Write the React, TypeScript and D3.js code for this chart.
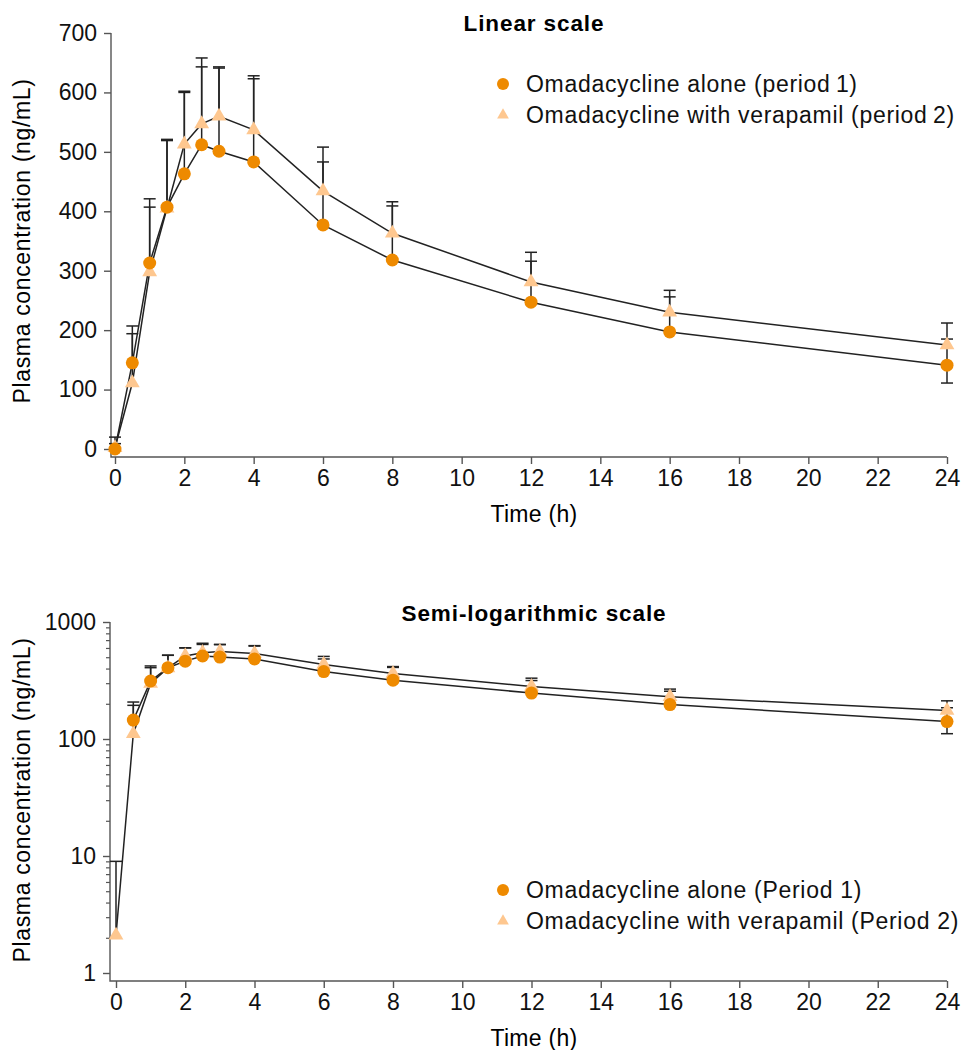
import { useEffect, useRef } from "react";
import * as d3 from "d3";

// sampling times (h)
const times = [0, 0.5, 1, 1.5, 2, 2.5, 3, 4, 6, 8, 12, 16, 24];

// period 1: omadacycline alone
const aloneMean = [0, 145, 313, 407, 463, 512, 501, 483, 377, 318, 247, 197, 141];
const aloneUpper = [20, 207, 421, 519, 602, 643, 641, 628, 483, 409, 316, 256, 185];
const aloneLower = [null, null, null, null, null, null, null, null, null, null, null, null, 111];

// period 2: omadacycline with verapamil
const verapMean = [2.1, 111, 298, 405, 513, 547, 560, 537, 434, 363, 281, 230, 175];
const verapUpper = [9, 194, 407, 521, 600, 658, 643, 623, 508, 416, 331, 267, 212];

const xTicks = [0, 2, 4, 6, 8, 10, 12, 14, 16, 18, 20, 22, 24];
const linTicks = [0, 100, 200, 300, 400, 500, 600, 700];
const logTicks = [1, 10, 100, 1000];

const legendLinear = ["Omadacycline alone (period\u20091)", "Omadacycline with verapamil (period\u20092)"];
const legendLog = ["Omadacycline alone (Period 1)", "Omadacycline with verapamil (Period 2)"];

const FONT = "'Liberation Sans', Arial, Helvetica, sans-serif";
const ORANGE = "#ee8a00";
const PEACH = "#fec78f";
const AXIS = "#555";

const App = () => {
  const svgRef = useRef<SVGSVGElement>(null);

  useEffect(() => {
    const svg = d3.select(svgRef.current);
    svg.selectAll("*").remove();

    const series = [
      { mean: aloneMean, upper: aloneUpper, lower: aloneLower, kind: "circle" },
      { mean: verapMean, upper: verapUpper, lower: aloneLower.map(() => null), kind: "triangle" },
    ];

    const panel = (cfg: any) => {
      const g = svg.append("g");
      const x = d3.scaleLinear().domain([0, 24]).range([cfg.x0, 947]);
      const y = cfg.y;
      const ok = (v: number) => (cfg.log ? v > 0 : true);

      // axes
      const yAxis = d3.axisLeft(y).tickValues(cfg.yTicks).tickSize(7).tickPadding(7)
        .tickSizeOuter(0).tickFormat(d3.format("d") as any);
      const ya = g.append("g").attr("transform", `translate(${cfg.axX},0)`).call(yAxis);
      ya.select(".domain").remove();
      if (cfg.minor) {
        const ma = g.append("g").attr("transform", `translate(${cfg.axX},0)`)
          .call(d3.axisLeft(y).tickValues(cfg.minor).tickSize(4).tickFormat(() => ""));
        ma.select(".domain").remove();
        ma.selectAll("line").attr("stroke", AXIS).attr("stroke-width", 1.2);
      }
      const xa = g.append("g").attr("transform", `translate(0,${cfg.axY})`)
        .call(d3.axisBottom(x).tickValues(xTicks).tickSize(7).tickPadding(6).tickSizeOuter(0));
      xa.select(".domain").remove();
      [ya, xa].forEach((a) => {
        a.selectAll("line").attr("stroke", AXIS).attr("stroke-width", 1.4);
        a.selectAll("text").attr("font-size", 23).attr("font-family", FONT).attr("fill", "#111");
      });
      g.append("path")
        .attr("d", `M${cfg.axX},${y.range()[1]}V${cfg.axY}H${x(24)}`)
        .attr("fill", "none").attr("stroke", AXIS).attr("stroke-width", 1.4);

      // labels
      g.append("text").attr("x", 534).attr("y", cfg.titleY).attr("text-anchor", "middle")
        .attr("font-family", FONT).attr("font-weight", "bold").attr("font-size", 22.5)
        .attr("letter-spacing", 0.9).text(cfg.title);
      g.append("text").attr("x", 534).attr("y", cfg.axY + 65).attr("text-anchor", "middle")
        .attr("font-family", FONT).attr("font-size", 23).attr("letter-spacing", 0.3).text("Time (h)");
      g.append("text").attr("transform", `translate(30,${cfg.labelY}) rotate(-90)`)
        .attr("text-anchor", "middle").attr("font-family", FONT).attr("font-size", 23)
        .attr("letter-spacing", 0.65).text("Plasma concentration (ng/mL)");

      // error bars
      series.forEach((s) => {
        times.forEach((t, i) => {
          const ends = [s.upper[i], s.lower[i]].filter((v) => v != null) as number[];
          if (!ok(s.mean[i])) return;
          ends.forEach((e) => {
            g.append("line").attr("x1", x(t)).attr("x2", x(t))
              .attr("y1", y(s.mean[i])).attr("y2", y(e))
              .attr("stroke", "#222").attr("stroke-width", 1.5);
            g.append("line").attr("x1", x(t) - 6).attr("x2", x(t) + 6)
              .attr("y1", y(e)).attr("y2", y(e))
              .attr("stroke", "#222").attr("stroke-width", 1.5);
          });
        });
      });

      // lines
      series.forEach((s) => {
        const pts = times.map((t, i) => [t, s.mean[i]] as [number, number]).filter((p) => ok(p[1]));
        g.append("path")
          .attr("d", d3.line().x((p) => x(p[0])).y((p) => y(p[1]))(pts))
          .attr("fill", "none").attr("stroke", "#222").attr("stroke-width", 1.5);
      });

      // markers (triangles first, circles on top)
      [series[1], series[0]].forEach((s) => {
        times.forEach((t, i) => {
          if (!ok(s.mean[i])) return;
          if (s.kind === "circle") {
            g.append("circle").attr("cx", x(t)).attr("cy", y(s.mean[i])).attr("r", 6.5).attr("fill", ORANGE);
          } else {
            g.append("path").attr("d", d3.symbol(d3.symbolTriangle, 95)())
              .attr("transform", `translate(${x(t)},${y(s.mean[i])})`).attr("fill", PEACH);
          }
        });
      });

      // legend
      const lg = g.append("g").attr("transform", `translate(503,${cfg.legY})`);
      lg.append("circle").attr("cx", 0).attr("cy", 0).attr("r", 6).attr("fill", ORANGE);
      lg.append("path").attr("d", d3.symbol(d3.symbolTriangle, 60)())
        .attr("transform", "translate(0,31)").attr("fill", PEACH);
      cfg.legend.forEach((txt: string, i: number) => {
        lg.append("text").attr("x", 23).attr("y", 8 + i * 31)
          .attr("font-family", FONT).attr("font-size", 23).attr("letter-spacing", 0.7)
          .attr("fill", "#111").text(txt);
      });
    };

    panel({
      x0: 115, axX: 111, axY: 457,
      y: d3.scaleLinear().domain([0, 700]).range([449, 33]),
      yTicks: linTicks, log: false,
      title: "Linear scale", titleY: 31, labelY: 241,
      legend: legendLinear, legY: 84,
    });

    const minor: number[] = [];
    [1, 10, 100].forEach((d) => { for (let k = 2; k <= 9; k++) minor.push(d * k); });
    panel({
      x0: 116, axX: 110, axY: 981,
      y: d3.scaleLog().domain([1, 1000]).range([973, 622]),
      yTicks: logTicks, minor, log: true,
      title: "Semi-logarithmic scale", titleY: 621, labelY: 800,
      legend: legendLog, legY: 890,
    });
  }, []);

  return (
    <svg ref={svgRef} width={964} height={1050}
      style={{ position: "absolute", left: 0, top: 0, background: "#fff" }} />
  );
};

export default App;
